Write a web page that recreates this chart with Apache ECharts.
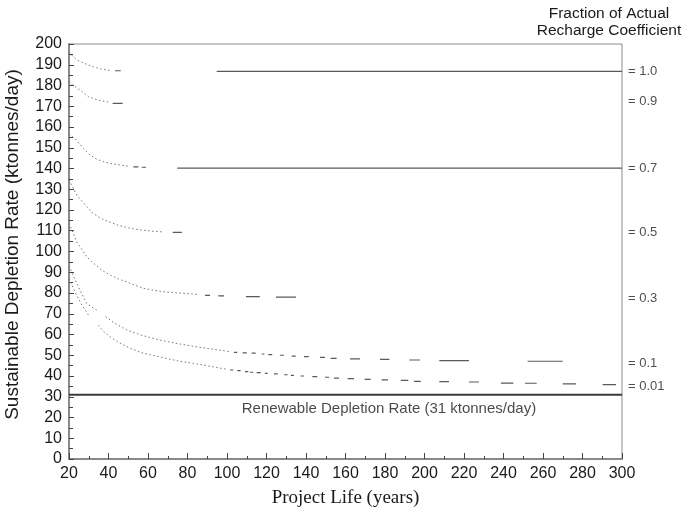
<!DOCTYPE html>
<html>
<head>
<meta charset="utf-8">
<script src="https://cdn.jsdelivr.net/npm/echarts@6/dist/echarts.min.js"></script>
<style>
  html, body { margin: 0; padding: 0; background: #fff; }
  #chart { width: 686px; height: 510px; }
</style>
</head>
<body>
<div id="chart"></div>
<script>
// curve fractions, labels on the right and where they sit
var fractions = ['1.0', '0.9', '0.7', '0.5', '0.3', '0.1', '0.01'];
var labelY = [187, 172.5, 140.2, 109, 77.6, 46.3, 35.2];

// dotted start of each curve, [years, ktonnes/day]; null = break
var head10 = [[20, 196], [22, 194], [24, 192.3], [27, 191], [30, 189.8], [33, 188.8], [36, 188], [39, 187.5], [41, 187.3]];
var head09 = [[20, 182], [22, 180], [25.6, 177.8], [29.8, 174.6], [33, 173.5], [36, 172.7], [39, 172.2], [41, 171.8]];
var head07 = [[20, 156.5], [23, 154.5], [27.2, 149.7], [30.6, 146.5], [34, 144.5], [37.4, 143.3], [41, 142.4], [45.8, 141.7], [50, 141.1]];
var head05 = [[20, 134.5], [24, 127], [29, 121.6], [32, 118.5], [36, 116], [40, 114.4], [45, 112.6], [50.9, 111.2], [56, 110.4], [62, 109.8], [68, 109.4]];
var head03 = [[20, 113.6], [24, 104.5], [29, 97.5], [31.5, 95.1], [36.6, 91], [40.8, 88.7], [45, 86.8], [50.9, 84.7], [57.6, 82.3], [63, 81.3], [67.8, 80.6], [73, 80.2], [79.6, 79.7], [85, 79.3]];
var head01 = [[20, 93], [23, 86.5], [26, 80.5], [29, 75], [31.5, 73.2], [34, 71.8], [36, null], [38.5, 68.6], [43, 65.5], [49.2, 62.2], [57, 59.6], [66, 57.3], [75, 55.6], [85, 54], [95, 52.6], [102, 51.7]];
var head001 = [[20, 87], [23, 80.5], [26, 75], [29.8, 69.4], [32, null], [34.8, 64.4], [37.5, 61.5], [40.8, 58.9], [45, 56.3], [51, 53.3], [57.6, 51], [67.8, 48.8], [75, 47.3], [82.9, 46.1], [92, 44.6], [100, 43.2]];

// dashes further along each curve: [from, to, value]
var dash10 = [[43.3, 46.2, 187.1], [94.8, 300, 186.8]];
var dash09 = [[42.1, 47.2, 171.4]];
var dash07 = [[52.6, 55.1, 140.8], [56.8, 59, 140.6], [74.8, 300, 140.2]];
var dash05 = [[72.5, 77.2, 109.2]];
var dash03 = [[88.9, 91.4, 78.9], [95.6, 98.5, 78.6], [109.6, 116.6, 78.3], [124.8, 134.9, 78.0]];
var dash01 = [[103.5, 105.2, 51.4], [107.9, 110, 51.1], [112.5, 114.5, 51.0], [117.6, 118.9, 50.6], [120.9, 122.9, 50.3],
              [126.8, 128.9, 50.0], [132.8, 134.8, 49.6], [139, 141.4, 49.3], [147.1, 149.6, 49.0], [152.5, 155.5, 48.5],
              [162.3, 167.3, 48.3], [177.5, 182.2, 48.0], [192.3, 197.7, 47.7], [207.5, 222.5, 47.4], [252.2, 270, 47.1]];
var dash001 = [[101.5, 103.2, 42.9], [105.2, 106.9, 42.6], [109.1, 110.8, 42.1], [111.6, 113.3, 41.8], [115, 117.1, 41.6],
               [119.2, 120.6, 41.3], [123.8, 125.7, 41.0], [128.9, 130.7, 40.6], [132.3, 133.9, 40.3], [137.3, 139, 40.0],
               [143.2, 145.7, 39.7], [149.6, 151.8, 39.4], [154.2, 156.7, 39.0], [161.1, 164.3, 38.7], [169.7, 172.8, 38.4],
               [178.3, 181.5, 38.1], [188, 191.8, 37.9], [194.7, 198.1, 37.4], [207.5, 212.4, 37.3], [222.5, 227.6, 37.1],
               [238.7, 245, 36.6], [250.9, 256.8, 36.5], [270, 276.7, 36.2], [290.2, 297, 35.8]];

var renewable = 31;
var renewableText = 'Renewable Depletion Rate (31 ktonnes/day)';
var renewableTextAt = [182, 24.2];

var heads = [head10, head09, head07, head05, head03, head01, head001];
var dashes = [dash10, dash09, dash07, dash05, dash03, dash01, dash001];

// turn [from, to, value] pieces into one line with breaks
function dash_data(d) {
    let out = [];
    for (let i = 0; i < d.length; ++i) {
        if (i > 0) out.push([(d[i - 1][1] + d[i][0]) / 2, null]);
        out.push([d[i][0], d[i][2]]);
        out.push([d[i][1], d[i][2]]);
    }
    return out;
}

var series = [];
for (let i = 0; i < heads.length; ++i) {
    series.push({
        type: 'line',
        data: heads[i],
        showSymbol: false,
        silent: true,
        lineStyle: { color: '#777', width: 1, type: [1.5, 2.5] }
    });
    series.push({
        type: 'line',
        data: dash_data(dashes[i]),
        showSymbol: false,
        silent: true,
        lineStyle: { color: '#5a5a5a', width: 1.2 }
    });
}
series.push({
    type: 'line',
    data: [[20, renewable], [300, renewable]],
    showSymbol: false,
    silent: true,
    lineStyle: { color: '#3a3a3a', width: 2 }
});
series.push({
    type: 'scatter',
    symbolSize: 0,
    clip: false,
    silent: true,
    data: [renewableTextAt],
    label: {
        show: true,
        position: 'inside',
        formatter: renewableText,
        color: '#1a1a1a',
        fontSize: 15,
        fontFamily: 'Liberation Sans'
    }
});
series.push({
    type: 'scatter',
    symbolSize: 0,
    clip: false,
    silent: true,
    data: labelY.map((y, i) => ({ value: [300, y], name: '= ' + fractions[i] })),
    label: {
        show: true,
        position: 'right',
        distance: 6,
        formatter: '{b}',
        color: '#222',
        fontSize: 13,
        fontFamily: 'Liberation Sans'
    }
});

var chart = echarts.init(document.getElementById('chart'), null, { renderer: 'canvas' });
chart.setOption({
    animation: false,
    backgroundColor: '#fff',
    graphic: [{
        type: 'text',
        x: 609,
        y: 5,
        silent: true,
        style: {
            text: 'Fraction of Actual\nRecharge Coefficient',
            textAlign: 'center',
            font: '15.5px "Liberation Sans"',
            lineHeight: 17,
            fill: '#1a1a1a'
        }
    }],
    grid: {
        left: 69, right: 64, top: 44, bottom: 51,
        containLabel: false,
        outerBoundsMode: 'none',
        show: true,
        borderColor: '#8a8a8a',
        borderWidth: 1
    },
    xAxis: {
        type: 'value',
        min: 20, max: 300, interval: 20,
        name: 'Project Life (years)',
        nameLocation: 'middle',
        nameGap: 30,
        nameTextStyle: { fontFamily: 'Liberation Serif', fontSize: 19, color: '#1a1a1a' },
        axisLine: { lineStyle: { color: '#8a8a8a', width: 2 } },
        axisTick: { inside: true, length: 6, lineStyle: { color: '#444' } },
        minorTick: { show: true, splitNumber: 2, length: 3, lineStyle: { color: '#444' } },
        axisLabel: { margin: 7, fontFamily: 'Liberation Sans', fontSize: 16, color: '#1a1a1a' },
        splitLine: { show: false }
    },
    yAxis: {
        type: 'value',
        min: 0, max: 200, interval: 10,
        name: 'Sustainable Depletion Rate (ktonnes/day)',
        nameLocation: 'middle',
        nameGap: 47,
        nameTextStyle: { fontFamily: 'Liberation Sans', fontSize: 19, color: '#1a1a1a', padding: [0, 0, 0, 14] },
        axisLine: { lineStyle: { color: '#8a8a8a', width: 2 } },
        axisTick: { inside: true, length: 5, lineStyle: { color: '#444' } },
        minorTick: { show: true, splitNumber: 2, length: 4, lineStyle: { color: '#444' } },
        axisLabel: { margin: 7, fontFamily: 'Liberation Sans', fontSize: 16, color: '#1a1a1a' },
        splitLine: { show: false }
    },
    series: series
});
</script>
</body>
</html>
